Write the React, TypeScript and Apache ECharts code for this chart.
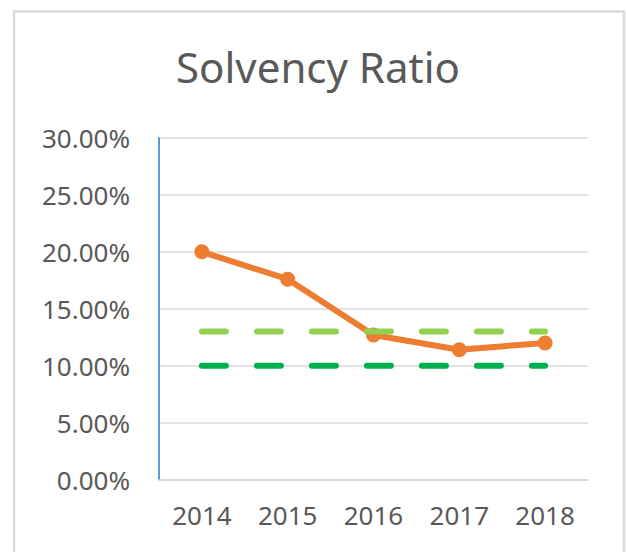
import React, { useEffect, useRef } from "react";
import * as echarts from "echarts";

const years = ["2014", "2015", "2016", "2017", "2018"];
const solvencyRatio = [20.0, 17.6, 12.7, 11.4, 12.0];
const upperThreshold = [13, 13, 13, 13, 13];
const lowerThreshold = [10, 10, 10, 10, 10];
const yTicks = { min: 0, max: 30, interval: 5 };

const FONT = "Noto Sans";
const TEXT = "#595959";

export default function App() {
  const ref = useRef<HTMLDivElement>(null);
  useEffect(() => {
    if (!ref.current) return;
    const chart = echarts.init(ref.current, undefined, { renderer: "svg" });
    chart.setOption({
      animation: false,
      backgroundColor: "#ffffff",
      title: {
        text: "Solvency Ratio",
        left: 318,
        textAlign: "center",
        top: 45,
        padding: 0,
        textStyle: { fontFamily: FONT, fontSize: 42, fontWeight: "normal", color: TEXT },
      },
      graphic: [
        {
          type: "rect",
          shape: { x: 14, y: 11.5, width: 610, height: 560 },
          style: { fill: "none", stroke: "#d9d9d9", lineWidth: 2.5 },
          silent: true,
          z: -1,
        },
      ],
      grid: { left: 159, right: 38, top: 138, bottom: 72.5, containLabel: false },
      xAxis: {
        type: "category",
        data: years,
        boundaryGap: true,
        axisLine: { show: true, lineStyle: { color: "#d9d9d9", width: 1.5 } },
        axisTick: { show: false },
        axisLabel: { fontFamily: FONT, fontSize: 26, color: TEXT, margin: 22 },
        splitLine: { show: false },
      },
      yAxis: {
        type: "value",
        min: yTicks.min,
        max: yTicks.max,
        interval: yTicks.interval,
        axisLine: { show: true, lineStyle: { color: "#5B9BD5", width: 2 } },
        axisTick: { show: false },
        axisLabel: {
          fontFamily: FONT,
          fontSize: 26,
          color: TEXT,
          margin: 29,
          formatter: (v: number) => v.toFixed(2) + "%",
        },
        splitLine: { show: true, lineStyle: { color: "#d9d9d9", width: 1.5 } },
      },
      series: [
        {
          name: "Solvency Ratio",
          type: "line",
          data: solvencyRatio,
          symbol: "circle",
          symbolSize: 15,
          lineStyle: { color: "#ED7D31", width: 6 },
          itemStyle: { color: "#ED7D31" },
          z: 2,
        },
        {
          name: "Upper",
          type: "line",
          data: upperThreshold,
          symbol: "none",
          lineStyle: { color: "#92D050", width: 6, type: [24, 31], cap: "round" },
          z: 3,
        },
        {
          name: "Lower",
          type: "line",
          data: lowerThreshold,
          symbol: "none",
          lineStyle: { color: "#00B050", width: 6, type: [24, 31], cap: "round" },
          z: 3,
        },
      ],
    });
    return () => chart.dispose();
  }, []);
  return (
    <div
      ref={ref}
      style={{ position: "fixed", left: 0, top: 0, width: 626, height: 552 }}
    />
  );
}
